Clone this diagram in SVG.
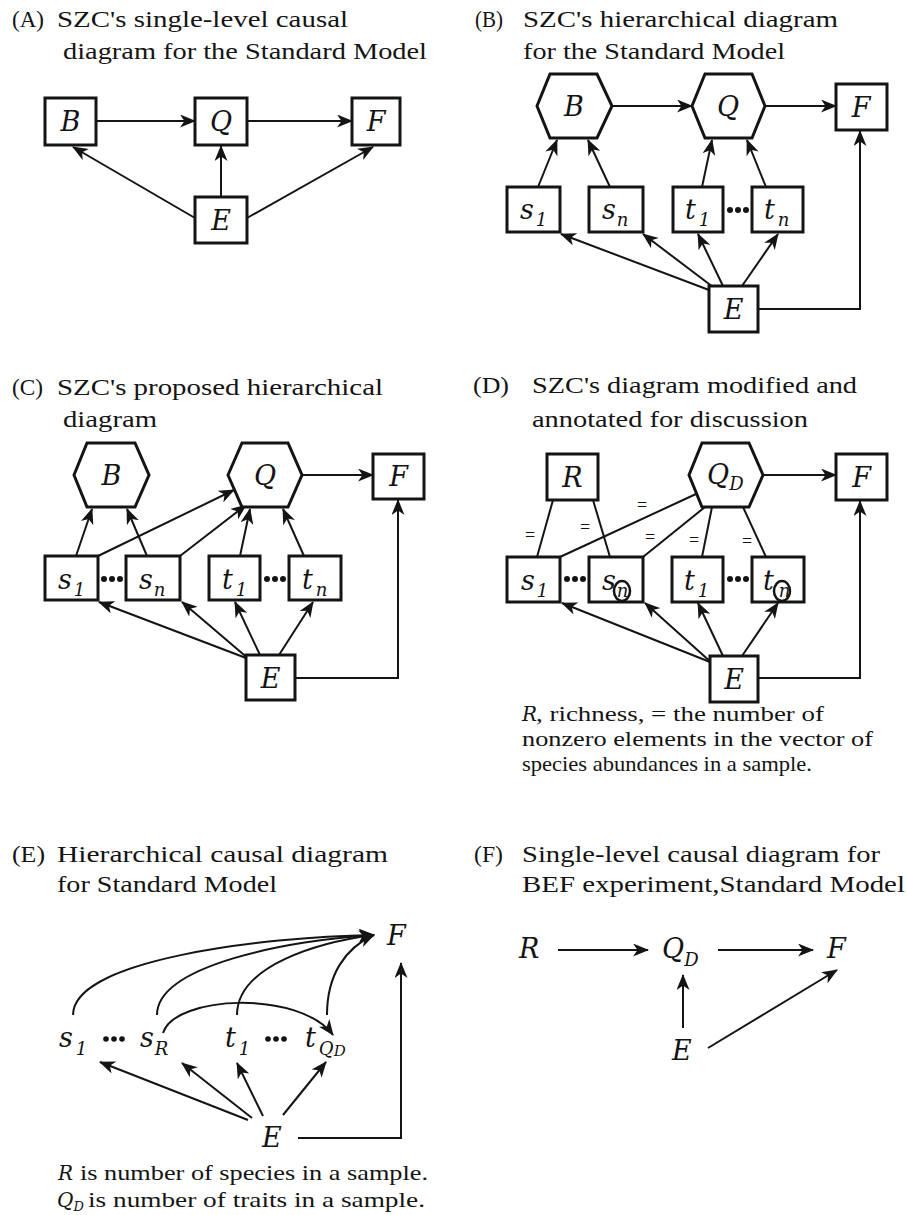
<svg xmlns="http://www.w3.org/2000/svg" width="907" height="1215" viewBox="0 0 907 1215">
<style>
.bg{fill:#fff}
.box{fill:#fff;stroke:#141414;stroke-width:3}
.ln{fill:none;stroke:#141414;stroke-width:2}
.ar{fill:none;stroke:#141414;stroke-width:2;marker-end:url(#ah)}
text{fill:#141414}
.ttl{font-family:'Liberation Serif',serif;font-size:23px}
.note{font-family:'Liberation Serif',serif;font-size:21px}
.mi{font-family:'DejaVu Serif',serif;font-style:italic;font-size:20px}
.m{font-family:'DejaVu Serif',serif;font-style:italic;font-size:27px}
.mc{font-family:'DejaVu Serif',serif;font-style:italic;font-size:27px;text-anchor:middle}
.sub{font-size:18px}
.eq{font-family:'Liberation Serif',serif;font-size:18px;text-anchor:middle}
.dot{fill:#141414}
</style>
<defs>
<marker id="ah" markerUnits="userSpaceOnUse" markerWidth="16" markerHeight="13" viewBox="0 0 16 13" refX="15" refY="6.5" orient="auto">
<path d="M0,0 L16,6.5 L0,13 L4.5,6.5 Z" fill="#141414"/>
</marker>
</defs>
<rect class="bg" x="0" y="0" width="907" height="1215"/>

<g id="titles">
<text class="ttl" x="12" y="27" textLength="32" lengthAdjust="spacingAndGlyphs">(A)</text>
<text class="ttl" x="57" y="27" textLength="291" lengthAdjust="spacingAndGlyphs">SZC's single-level causal</text>
<text class="ttl" x="63" y="59" textLength="364" lengthAdjust="spacingAndGlyphs">diagram for the Standard Model</text>
<text class="ttl" x="475" y="27" textLength="28" lengthAdjust="spacingAndGlyphs">(B)</text>
<text class="ttl" x="523" y="27" textLength="315" lengthAdjust="spacingAndGlyphs">SZC's hierarchical diagram</text>
<text class="ttl" x="523" y="59" textLength="262" lengthAdjust="spacingAndGlyphs">for the Standard Model</text>
<text class="ttl" x="12" y="395" textLength="31" lengthAdjust="spacingAndGlyphs">(C)</text>
<text class="ttl" x="57" y="395" textLength="326" lengthAdjust="spacingAndGlyphs">SZC's proposed hierarchical</text>
<text class="ttl" x="63" y="427" textLength="94" lengthAdjust="spacingAndGlyphs">diagram</text>
<text class="ttl" x="473" y="393" textLength="36" lengthAdjust="spacingAndGlyphs">(D)</text>
<text class="ttl" x="532" y="393" textLength="325" lengthAdjust="spacingAndGlyphs">SZC's diagram modified and</text>
<text class="ttl" x="532" y="427" textLength="276" lengthAdjust="spacingAndGlyphs">annotated for discussion</text>
<text class="ttl" x="12" y="862" textLength="33" lengthAdjust="spacingAndGlyphs">(E)</text>
<text class="ttl" x="57" y="862" textLength="331" lengthAdjust="spacingAndGlyphs">Hierarchical causal diagram</text>
<text class="ttl" x="57" y="892" textLength="220" lengthAdjust="spacingAndGlyphs">for Standard Model</text>
<text class="ttl" x="474" y="862" textLength="29" lengthAdjust="spacingAndGlyphs">(F)</text>
<text class="ttl" x="522" y="862" textLength="358" lengthAdjust="spacingAndGlyphs">Single-level causal diagram for</text>
<text class="ttl" x="522" y="892" textLength="383" lengthAdjust="spacingAndGlyphs">BEF experiment,Standard Model</text>
</g>

<!-- ============ Panel A ============ -->
<g id="A-connectors">
<line class="ar" x1="96" y1="121" x2="195" y2="121"/>
<line class="ar" x1="247" y1="121" x2="352" y2="121"/>
<line class="ar" x1="221" y1="197" x2="221" y2="146"/>
<line class="ar" x1="195" y1="218" x2="73" y2="147"/>
<line class="ar" x1="247" y1="218" x2="373" y2="147"/>
</g>
<g id="A-B"><rect class="box" x="45" y="98" width="51" height="47"/><text class="mc" x="70.5" y="131">B</text></g>
<g id="A-Q"><rect class="box" x="195" y="98" width="52" height="47"/><text class="mc" x="221" y="131">Q</text></g>
<g id="A-F"><rect class="box" x="352" y="98" width="48" height="47"/><text class="mc" x="376" y="131">F</text></g>
<g id="A-E"><rect class="box" x="195" y="197" width="52" height="46"/><text class="mc" x="221" y="230">E</text></g>

<!-- ============ Panel B ============ -->
<g id="B-connectors">
<line class="ar" x1="612" y1="106" x2="692" y2="106"/>
<line class="ar" x1="765" y1="106" x2="836" y2="106"/>
<line class="ar" x1="538" y1="187" x2="557" y2="140"/>
<line class="ar" x1="610" y1="187" x2="588" y2="140"/>
<line class="ar" x1="702" y1="187" x2="712" y2="140"/>
<line class="ar" x1="766" y1="187" x2="747" y2="140"/>
<line class="ar" x1="709" y1="290" x2="561" y2="234"/>
<line class="ar" x1="713" y1="287" x2="643" y2="234"/>
<line class="ar" x1="723" y1="286" x2="698" y2="234"/>
<line class="ar" x1="742" y1="286" x2="778" y2="234"/>
<path class="ar" d="M758,309 H860 V131"/>
</g>
<g id="B-B"><polygon class="box" points="537,106 550,74 597,74 612,106 597,138 550,138"/><text class="mc" x="574" y="116">B</text></g>
<g id="B-Q"><polygon class="box" points="692,106 705,74 752,74 765,106 752,138 705,138"/><text class="mc" x="728" y="116">Q</text></g>
<g id="B-F"><rect class="box" x="836" y="84" width="51" height="46"/><text class="mc" x="861" y="117">F</text></g>
<g id="B-s1"><rect class="box" x="507" y="187" width="53" height="45"/><text class="m" x="520" y="219">s<tspan class="sub" dy="7" dx="2">1</tspan></text></g>
<g id="B-sn"><rect class="box" x="589" y="187" width="54" height="45"/><text class="m" x="602" y="219">s<tspan class="sub" dy="7" dx="1">n</tspan></text></g>
<g id="B-t1"><rect class="box" x="673" y="187" width="50" height="45"/><text class="m" x="685" y="219">t<tspan class="sub" dy="7" dx="3">1</tspan></text></g>
<g id="B-tn"><rect class="box" x="752" y="187" width="51" height="45"/><text class="m" x="764" y="219">t<tspan class="sub" dy="7" dx="3">n</tspan></text></g>
<g id="B-dots"><circle class="dot" cx="730" cy="210" r="3"/><circle class="dot" cx="738" cy="210" r="3"/><circle class="dot" cx="746" cy="210" r="3"/></g>
<g id="B-E"><rect class="box" x="709" y="286" width="49" height="46"/><text class="mc" x="733.5" y="319">E</text></g>

<!-- ============ Panel C ============ -->
<g id="C-connectors">
<line class="ar" x1="302" y1="475" x2="373" y2="475"/>
<line class="ar" x1="76" y1="556" x2="92" y2="509"/>
<line class="ar" x1="147" y1="556" x2="127" y2="509"/>
<line class="ar" x1="98" y1="556" x2="234" y2="490"/>
<line class="ar" x1="180" y1="556" x2="246" y2="505"/>
<line class="ar" x1="240" y1="556" x2="250" y2="509"/>
<line class="ar" x1="304" y1="556" x2="283" y2="509"/>
<line class="ar" x1="246" y1="658" x2="99" y2="602"/>
<line class="ar" x1="250" y1="660" x2="182" y2="602"/>
<line class="ar" x1="260" y1="655" x2="235" y2="602"/>
<line class="ar" x1="279" y1="655" x2="313" y2="602"/>
<path class="ar" d="M295,678 H398 V500"/>
</g>
<g id="C-B"><polygon class="box" points="74,475 87,443 135,443 149,475 135,507 87,507"/><text class="mc" x="111.5" y="485">B</text></g>
<g id="C-Q"><polygon class="box" points="228,475 242,443 288,443 302,475 288,507 242,507"/><text class="mc" x="265" y="485">Q</text></g>
<g id="C-F"><rect class="box" x="373" y="454" width="51" height="45"/><text class="mc" x="398.5" y="486">F</text></g>
<g id="C-s1"><rect class="box" x="45" y="556" width="53" height="44"/><text class="m" x="58" y="589">s<tspan class="sub" dy="7" dx="2">1</tspan></text></g>
<g id="C-sn"><rect class="box" x="126" y="556" width="54" height="44"/><text class="m" x="139" y="589">s<tspan class="sub" dy="7" dx="1">n</tspan></text></g>
<g id="C-t1"><rect class="box" x="209" y="556" width="51" height="44"/><text class="m" x="222" y="589">t<tspan class="sub" dy="7" dx="3">1</tspan></text></g>
<g id="C-tn"><rect class="box" x="289" y="556" width="52" height="44"/><text class="m" x="302" y="589">t<tspan class="sub" dy="7" dx="3">n</tspan></text></g>
<g id="C-dots"><circle class="dot" cx="104" cy="579" r="3"/><circle class="dot" cx="112" cy="579" r="3"/><circle class="dot" cx="120" cy="579" r="3"/><circle class="dot" cx="267" cy="579" r="3"/><circle class="dot" cx="275" cy="579" r="3"/><circle class="dot" cx="283" cy="579" r="3"/></g>
<g id="C-E"><rect class="box" x="246" y="655" width="49" height="45"/><text class="mc" x="270.5" y="688">E</text></g>

<!-- ============ Panel D ============ -->
<g id="D-connectors">
<line class="ar" x1="763" y1="475" x2="836" y2="475"/>
<line class="ln" x1="553" y1="500" x2="537" y2="557"/>
<line class="ln" x1="593" y1="500" x2="610" y2="557"/>
<line class="ln" x1="696" y1="494" x2="560" y2="557"/>
<line class="ln" x1="705" y1="507" x2="643" y2="557"/>
<line class="ln" x1="712" y1="507" x2="702" y2="557"/>
<line class="ln" x1="743" y1="507" x2="766" y2="557"/>
<line class="ar" x1="710" y1="662" x2="562" y2="603"/>
<line class="ar" x1="713" y1="664" x2="645" y2="603"/>
<line class="ar" x1="723" y1="656" x2="698" y2="603"/>
<line class="ar" x1="742" y1="656" x2="778" y2="603"/>
<path class="ar" d="M758,678 H860 V501"/>
</g>
<g id="D-eq">
<text class="eq" x="530" y="541">=</text>
<text class="eq" x="585" y="533">=</text>
<text class="eq" x="642" y="511">=</text>
<text class="eq" x="650" y="543">=</text>
<text class="eq" x="694" y="546">=</text>
<text class="eq" x="747" y="547">=</text>
</g>
<g id="D-R"><rect class="box" x="547" y="454" width="51" height="46"/><text class="mc" x="572.5" y="487">R</text></g>
<g id="D-QD"><polygon class="box" points="689,475 702,443 749,443 763,475 749,507 702,507"/><text class="m" x="707" y="484">Q<tspan class="sub" dy="6">D</tspan></text></g>
<g id="D-F"><rect class="box" x="836" y="454" width="51" height="46"/><text class="mc" x="861.5" y="487">F</text></g>
<g id="D-s1"><rect class="box" x="507" y="557" width="53" height="45"/><text class="m" x="521" y="590">s<tspan class="sub" dy="7" dx="2">1</tspan></text></g>
<g id="D-sn"><rect class="box" x="589" y="557" width="54" height="45"/><text class="m" x="602" y="590">s<tspan class="sub" dy="7" dx="1">n</tspan></text><ellipse cx="622" cy="591" rx="8" ry="10" fill="none" stroke="#141414" stroke-width="2.5"/></g>
<g id="D-t1"><rect class="box" x="672" y="557" width="51" height="45"/><text class="m" x="684" y="590">t<tspan class="sub" dy="7" dx="3">1</tspan></text></g>
<g id="D-tn"><rect class="box" x="752" y="557" width="52" height="45"/><text class="m" x="763" y="590">t<tspan class="sub" dy="7" dx="5">n</tspan></text><ellipse cx="782" cy="591" rx="8" ry="10" fill="none" stroke="#141414" stroke-width="2.5"/></g>
<g id="D-dots"><circle class="dot" cx="567" cy="579" r="3"/><circle class="dot" cx="575" cy="579" r="3"/><circle class="dot" cx="583" cy="579" r="3"/><circle class="dot" cx="730" cy="579" r="3"/><circle class="dot" cx="738" cy="579" r="3"/><circle class="dot" cx="746" cy="579" r="3"/></g>
<g id="D-E"><rect class="box" x="710" y="656" width="48" height="46"/><text class="mc" x="734" y="689">E</text></g>
<g id="D-note">
<text class="mi" x="522" y="721">R</text>
<text class="note" x="536" y="721" textLength="288" lengthAdjust="spacingAndGlyphs">, richness, = the number of</text>
<text class="note" x="522" y="746" textLength="351" lengthAdjust="spacingAndGlyphs">nonzero elements in the vector of</text>
<text class="note" x="522" y="771" textLength="290" lengthAdjust="spacingAndGlyphs">species abundances in a sample.</text>
</g>

<!-- ============ Panel E ============ -->
<g id="E-connectors">
<path class="ar" d="M73,1015 C73,960 260,937 374,935"/>
<path class="ar" d="M157,1015 C157,965 290,940 374,935"/>
<path class="ar" d="M237,1015 C237,965 320,942 374,935"/>
<path class="ar" d="M327,1015 C327,975 345,948 374,935"/>
<path class="ar" d="M163,1033 C175,995 300,990 333,1035"/>
<line class="ar" x1="248" y1="1120" x2="100" y2="1062"/>
<line class="ar" x1="252" y1="1118" x2="182" y2="1063"/>
<line class="ar" x1="263" y1="1116" x2="237" y2="1063"/>
<line class="ar" x1="283" y1="1115" x2="326" y2="1062"/>
<path class="ar" d="M298,1138 H401 V963"/>
</g>
<g id="E-F"><text class="m" x="387" y="945">F</text></g>
<g id="E-s1"><text class="m" x="59" y="1047">s<tspan class="sub" dy="8" dx="3">1</tspan></text></g>
<g id="E-dots1"><circle class="dot" cx="106" cy="1039" r="2.8"/><circle class="dot" cx="114" cy="1039" r="2.8"/><circle class="dot" cx="122" cy="1039" r="2.8"/></g>
<g id="E-sR"><text class="m" x="140" y="1047">s<tspan class="sub" dy="8" dx="1">R</tspan></text></g>
<g id="E-t1"><text class="m" x="225" y="1047">t<tspan class="sub" dy="8" dx="3">1</tspan></text></g>
<g id="E-dots2"><circle class="dot" cx="268" cy="1039" r="2.8"/><circle class="dot" cx="276" cy="1039" r="2.8"/><circle class="dot" cx="284" cy="1039" r="2.8"/></g>
<g id="E-tQD"><text class="m" x="305" y="1047">t<tspan class="sub" dy="8" dx="3">Q</tspan><tspan font-size="15" dy="1">D</tspan></text></g>
<g id="E-E"><text class="m" x="262" y="1147">E</text></g>
<g id="E-note">
<text class="mi" x="58" y="1180">R</text>
<text class="note" x="80" y="1180" textLength="348" lengthAdjust="spacingAndGlyphs">is number of species in a sample.</text>
<text class="mi" x="57" y="1207">Q<tspan font-size="13" dy="4">D</tspan></text>
<text class="note" x="88" y="1207" textLength="337" lengthAdjust="spacingAndGlyphs">is number of traits in a sample.</text>
</g>

<!-- ============ Panel F ============ -->
<g id="F-connectors">
<line class="ar" x1="558" y1="950" x2="648" y2="950"/>
<line class="ar" x1="718" y1="950" x2="813" y2="950"/>
<line class="ar" x1="683" y1="1028" x2="683" y2="975"/>
<line class="ar" x1="708" y1="1048" x2="837" y2="970"/>
</g>
<g id="F-R"><text class="m" x="519" y="958">R</text></g>
<g id="F-QD"><text class="m" x="662" y="958">Q<tspan class="sub" dy="8">D</tspan></text></g>
<g id="F-F"><text class="m" x="827" y="958">F</text></g>
<g id="F-E"><text class="m" x="672" y="1060">E</text></g>
</svg>
